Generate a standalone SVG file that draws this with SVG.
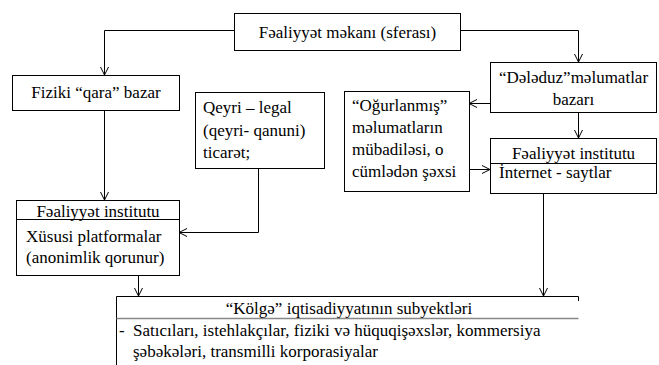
<svg xmlns="http://www.w3.org/2000/svg" width="659" height="365" viewBox="0 0 659 365">
<style>
  .box{fill:#fff;stroke:#000;stroke-width:1}
  .ln{fill:none;stroke:#000;stroke-width:1}
  .t{font-family:"Liberation Serif","Times New Roman",serif;font-size:17px;fill:#000}
  .c{text-anchor:middle}
</style>
<defs>
  <marker id="arr" markerUnits="userSpaceOnUse" markerWidth="10" markerHeight="10" refX="8" refY="4.5" orient="auto">
    <path d="M0,0.5 L8,4.5 L0,8.5" fill="none" stroke="#000" stroke-width="1"/>
  </marker>
</defs>
<rect width="659" height="365" fill="#fff"/>
<g id="connectors">
  <path class="ln" d="M234,30.5 H104.5 V75" marker-end="url(#arr)"/>
  <path class="ln" d="M460,30.5 H578.5 V62" marker-end="url(#arr)"/>
  <path class="ln" d="M104.5,110 V200" marker-end="url(#arr)"/>
  <path class="ln" d="M258.5,168 V232.5 H179" marker-end="url(#arr)"/>
  <path class="ln" d="M490,103.5 H469" marker-end="url(#arr)"/>
  <path class="ln" d="M578.5,112 V138" marker-end="url(#arr)"/>
  <path class="ln" d="M469,169.5 H490" marker-end="url(#arr)"/>
  <path class="ln" d="M543.5,193 V296" marker-end="url(#arr)"/>
  <path class="ln" d="M138.5,275 V296" marker-end="url(#arr)"/>
</g>
<g id="n-top">
  <rect class="box" x="234.5" y="13.5" width="226" height="37"/>
  <text class="t c" x="347.5" y="38">Fəaliyyət məkanı (sferası)</text>
</g>
<g id="n-fiziki">
  <rect class="box" x="12.5" y="75.5" width="167" height="35"/>
  <text class="t c" x="96" y="98">Fiziki “qara” bazar</text>
</g>
<g id="n-qeyri">
  <rect class="box" x="195.5" y="92.5" width="129" height="76"/>
  <text class="t" x="203" y="113">Qeyri – legal</text>
  <text class="t" x="203" y="136">(qeyri- qanuni)</text>
  <text class="t" x="203" y="158">ticarət;</text>
</g>
<g id="n-deleduz">
  <rect class="box" x="490.5" y="62.5" width="166" height="50"/>
  <text class="t c" x="573.5" y="83">“Dələduz”məlumatlar</text>
  <text class="t c" x="573.5" y="105">bazarı</text>
</g>
<g id="n-ogurlanmis">
  <rect class="box" x="344.5" y="91.5" width="125" height="100"/>
  <text class="t" x="352" y="111">“Oğurlanmış”</text>
  <text class="t" x="352" y="133">məlumatların</text>
  <text class="t" x="352" y="155">mübadiləsi, o</text>
  <text class="t" x="352" y="177">cümlədən şəxsi</text>
</g>
<g id="n-institut-right">
  <rect class="box" x="490.5" y="138.5" width="166" height="55"/>
  <line class="ln" x1="490.5" y1="163.5" x2="656.5" y2="163.5"/>
  <text class="t c" x="573.5" y="159">Fəaliyyət institutu</text>
  <text class="t" x="499" y="178">İnternet - saytlar</text>
</g>
<g id="n-institut-left">
  <rect class="box" x="16.5" y="200.5" width="163" height="75"/>
  <line class="ln" x1="16.5" y1="219.5" x2="179.5" y2="219.5"/>
  <text class="t c" x="98" y="217">Fəaliyyət institutu</text>
  <text class="t" x="26" y="242">Xüsusi platformalar</text>
  <text class="t" x="26" y="263">(anonimlik qorunur)</text>
</g>
<g id="n-subyektler">
  <path class="ln" d="M116.5,365 V296.5 H578.5 V301"/>
  <line x1="116.5" y1="318.5" x2="578.5" y2="318.5" stroke="#888" stroke-width="1.5"/>
  <text class="t c" x="349" y="314">“Kölgə” iqtisadiyyatının subyektləri</text>
  <text class="t" x="119" y="336">-</text>
  <text class="t" x="133" y="336">Satıcıları, istehlakçılar, fiziki və hüquqişəxslər, kommersiya</text>
  <text class="t" x="133" y="357">şəbəkələri, transmilli korporasiyalar</text>
</g>
</svg>
